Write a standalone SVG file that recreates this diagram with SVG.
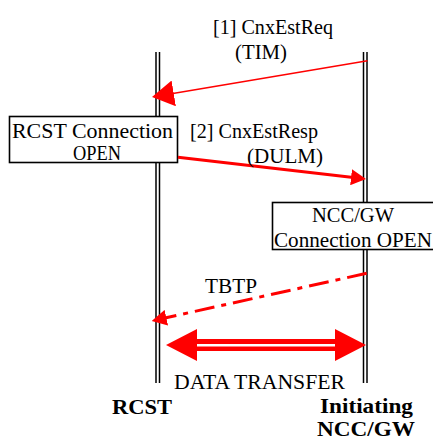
<svg xmlns="http://www.w3.org/2000/svg" width="433" height="441" viewBox="0 0 433 441">
  <style>
    text { font-family: "Liberation Serif", "DejaVu Serif", serif; font-size: 20px; fill: #000; }
    .actor { font-weight: bold; font-size: 21px; }
    .big { font-size: 22px; }
    .mid { font-size: 21px; }
    .life { stroke: #000; stroke-width: 1.5; fill: none; }
    .state { fill: #fff; stroke: #000; stroke-width: 1.6; }
    .msg { stroke: #ff0000; fill: none; }
    .head { fill: #ff0000; stroke: none; }
  </style>
  <defs>
    <marker id="head-req" markerUnits="userSpaceOnUse" viewBox="0 0 22 26" refX="19" refY="13" markerWidth="22" markerHeight="26" orient="auto">
      <path class="head" d="M0,0 L22,13 L0,26 z"/>
    </marker>
    <marker id="head-small" markerUnits="userSpaceOnUse" viewBox="0 0 15 16" refX="11" refY="8" markerWidth="15" markerHeight="16" orient="auto">
      <path class="head" d="M0,0 L15,8 L0,16 z"/>
    </marker>
  </defs>

  <!-- RCST lifeline and label -->
  <g id="rcst">
    <line class="life" x1="156" y1="52" x2="156" y2="383"/>
    <line class="life" x1="159.5" y1="52" x2="159.5" y2="383"/>
    <text class="actor" x="112" y="414" textLength="60" lengthAdjust="spacingAndGlyphs">RCST</text>
  </g>

  <!-- Initiating NCC/GW lifeline and label -->
  <g id="ncc-gw">
    <line class="life" x1="363.5" y1="52" x2="363.5" y2="383"/>
    <line class="life" x1="367" y1="52" x2="367" y2="383"/>
    <text class="actor" x="320" y="413" textLength="93" lengthAdjust="spacingAndGlyphs">Initiating</text>
    <text class="actor" x="317" y="436.3" textLength="98" lengthAdjust="spacingAndGlyphs">NCC/GW</text>
  </g>

  <!-- Connection state boxes -->
  <g id="rcst-open">
    <rect class="state" x="9.5" y="116.5" width="168" height="46"/>
    <text class="big" x="12" y="137.5" textLength="161" lengthAdjust="spacingAndGlyphs">RCST Connection</text>
    <text x="73" y="160" textLength="48" lengthAdjust="spacingAndGlyphs">OPEN</text>
  </g>

  <g id="ncc-open">
    <rect class="state" x="272.5" y="202.5" width="175" height="47"/>
    <text x="312" y="222" textLength="82" lengthAdjust="spacingAndGlyphs">NCC/GW</text>
    <text class="mid" x="274" y="246.5" textLength="158" lengthAdjust="spacingAndGlyphs">Connection OPEN</text>
  </g>

  <!-- Message connectors -->
  <g id="connectors">
    <!-- [1] CnxEstReq (TIM) -->
    <line class="msg" x1="367.5" y1="60.7" x2="155" y2="96.5" stroke-width="1.5" marker-end="url(#head-req)"/>
    <!-- [2] CnxEstResp (DULM) -->
    <line class="msg" x1="178" y1="157.3" x2="362" y2="178.5" stroke-width="3" marker-end="url(#head-small)"/>
    <!-- TBTP -->
    <line class="msg" x1="366.7" y1="273.3" x2="155.6" y2="320.1" stroke-width="3" stroke-dasharray="20 7 5 7" marker-end="url(#head-small)"/>
    <!-- DATA TRANSFER: double-lined, two-headed -->
    <line class="msg" x1="196" y1="345" x2="336" y2="345" stroke-width="12"/>
    <line x1="196" y1="345.2" x2="336" y2="345.2" stroke="#fff" stroke-width="2.6"/>
    <path class="head" d="M166,345 L197,329 L197,361 z"/>
    <path class="head" d="M366,345 L335,329 L335,361 z"/>

    <text class="mid" x="213" y="34" textLength="120" lengthAdjust="spacingAndGlyphs">[1] CnxEstReq</text>
    <text class="mid" x="235" y="59" textLength="52" lengthAdjust="spacingAndGlyphs">(TIM)</text>
    <text class="mid" x="190" y="138" textLength="128" lengthAdjust="spacingAndGlyphs">[2] CnxEstResp</text>
    <text class="mid" x="247" y="163" textLength="76" lengthAdjust="spacingAndGlyphs">(DULM)</text>
    <text x="205" y="293" textLength="52" lengthAdjust="spacingAndGlyphs">TBTP</text>
    <text x="174" y="389" textLength="171" lengthAdjust="spacingAndGlyphs">DATA TRANSFER</text>
  </g>
</svg>
